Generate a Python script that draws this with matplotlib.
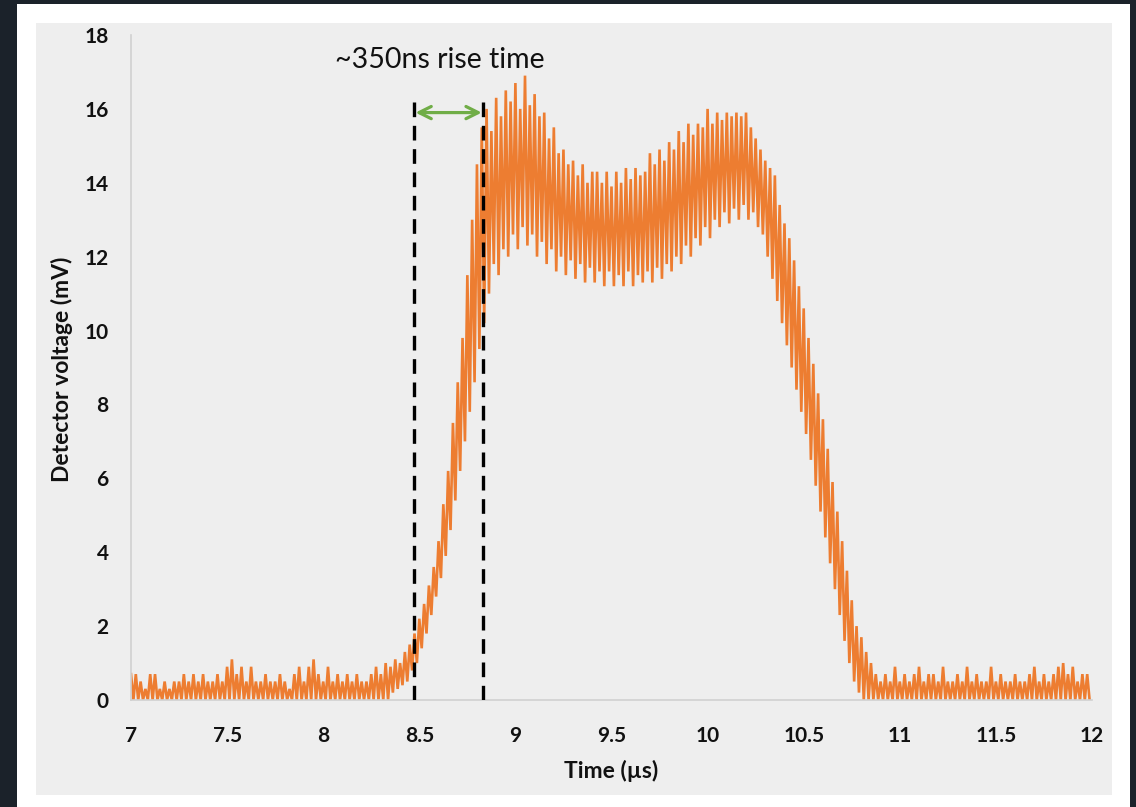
import numpy as np
import matplotlib
matplotlib.use("Agg")
import matplotlib.pyplot as plt
from matplotlib.patches import Rectangle

# ---- data ----
t_start = 7.0
period = 0.025  # us, oscillation period of the trace

# upper (peak) values of each oscillation, mV
hi_vals = [
    # baseline 7.0 - 8.325
    0.7, 0.7, 0.5, 0.3, 0.7, 0.7, 0.3, 0.5, 0.3, 0.5,
    0.5, 0.7, 0.5, 0.7, 0.5, 0.7, 0.5, 0.5, 0.7, 0.5,
    0.9, 1.1, 0.7, 0.9, 0.5, 0.9, 0.5, 0.5, 0.7, 0.5,
    0.5, 0.7, 0.5, 0.3, 0.7, 0.9, 0.5, 0.9, 1.1, 0.7,
    0.5, 0.9, 0.5, 0.7, 0.5, 0.7, 0.5, 0.7, 0.5, 0.5,
    0.7, 0.9, 0.7, 1.0,
    # rise 8.35 - 8.875
    0.9, 1.1, 1.0, 1.3, 1.5, 1.8, 2.2, 2.6, 3.1, 3.6,
    4.3, 5.3, 6.2, 7.5, 8.6, 9.8, 11.5, 13.0, 14.5, 15.5,
    16.0, 15.4,
    # first hump and dip 8.9 - 9.975
    16.3, 15.8, 16.5, 16.2, 16.7, 16.0, 16.9, 16.1, 16.4, 15.8,
    15.9, 15.2, 15.5, 14.8, 14.9, 14.5, 14.6, 14.2, 14.5, 14.0,
    14.3, 14.3, 14.0, 14.3, 13.9, 14.3, 14.0, 14.4, 14.1, 14.4,
    14.2, 14.3, 14.8, 14.5, 14.9, 14.6, 15.1, 14.9, 15.4, 15.1,
    15.6, 15.3, 15.6, 15.5,
    # second hump 10.0 - 10.275
    16.0, 15.6, 15.9, 15.7, 15.9, 15.8, 15.9, 15.8, 15.9, 15.5,
    15.2, 14.9,
    # fall 10.3 - 10.85
    14.6, 14.4, 14.2, 13.4, 12.9, 12.5, 11.9, 11.2, 10.6, 9.8,
    9.1, 8.3, 7.6, 6.8, 5.9, 5.1, 4.3, 3.5, 2.7, 2.0,
    1.7, 1.3, 1.0,
    # baseline 10.875 - 11.975
    0.7, 0.5, 0.7, 0.5, 0.9, 0.5, 0.7, 0.5, 0.7, 0.9,
    0.5, 0.7, 0.7, 0.5, 0.9, 0.5, 0.5, 0.7, 0.5, 0.9,
    0.5, 0.7, 0.5, 0.5, 0.9, 0.5, 0.7, 0.5, 0.5, 0.7,
    0.5, 0.5, 0.7, 0.9, 0.5, 0.7, 0.5, 0.7, 0.9, 1.0,
    0.7, 0.9, 0.5, 0.7, 0.7,
]

# lower (trough) values of each oscillation, mV
lo_vals = [0.0] * 54 + [
    0.2, 0.3, 0.4, 0.5, 0.8, 1.0, 1.4, 1.8, 2.3, 2.8,
    3.3, 3.9, 4.6, 5.4, 6.2, 7.0, 7.8, 8.6, 9.5, 10.2,
    11.0, 11.8,
    11.5, 12.2, 12.0, 12.6, 12.2, 12.8, 12.3, 12.6, 12.0, 12.4,
    11.8, 12.2, 11.6, 12.0, 11.5, 11.9, 11.4, 11.8, 11.3, 11.7,
    11.3, 11.6, 11.2, 11.6, 11.2, 11.5, 11.2, 11.6, 11.2, 11.5,
    11.3, 11.6, 11.3, 11.7, 11.4, 11.8, 11.6, 12.0, 11.8, 12.3,
    12.0, 12.5, 12.3, 12.8,
    12.5, 13.0, 12.8, 13.2, 12.9, 13.3, 13.0, 13.4, 13.0, 13.2,
    12.8, 12.6,
    12.0, 11.4, 10.8, 10.2, 9.6, 9.0, 8.4, 7.8, 7.2, 6.5,
    5.8, 5.1, 4.4, 3.7, 3.0, 2.3, 1.6, 1.0, 0.5, 0.2,
    0.0, 0.0, 0.0,
] + [0.0] * 45

x_ticks = [7, 7.5, 8, 8.5, 9, 9.5, 10, 10.5, 11, 11.5, 12]
x_tick_labels = ["7", "7.5", "8", "8.5", "9", "9.5", "10", "10.5", "11", "11.5", "12"]
y_ticks = [0, 2, 4, 6, 8, 10, 12, 14, 16, 18]

rise_start = 8.475
rise_end = 8.83
marker_top = 16.3
arrow_y = 15.9
annotation = "~350ns rise time"

# ---- build trace (alternating peak / trough samples) ----
hi = np.array(hi_vals)
lo = np.array(lo_vals)
n = len(hi)
t_hi = t_start + period * np.arange(n)
t_lo = t_hi + period / 2
t = np.empty(2 * n)
v = np.empty(2 * n)
t[0::2] = t_hi
t[1::2] = t_lo
v[0::2] = hi
v[1::2] = lo

# ---- figure ----
W, H = 1136, 807
fig = plt.figure(figsize=(W / 100, H / 100), dpi=100)
fig.patch.set_facecolor("#1b222a")

def px_rect(x0, y0, x1, y1, color):
    fig.patches.append(Rectangle((x0 / W, 1 - y1 / H), (x1 - x0) / W, (y1 - y0) / H,
                                 transform=fig.transFigure, facecolor=color,
                                 edgecolor="none", zorder=-10))

px_rect(17, 4, 1130, 812, "#ffffff")
px_rect(36, 23, 1112, 795, "#eeeeee")

ax = fig.add_axes([131 / W, (H - 700) / H, (1092 - 131) / W, (700 - 35) / H])
ax.set_facecolor("none")
ax.plot(t, v, color="#ed7d31", lw=1.9, solid_joinstyle="miter", zorder=2)

ax.set_xlim(7, 12)
ax.set_ylim(0, 18)
ax.set_xticks(x_ticks)
ax.set_xticklabels(x_tick_labels)
ax.set_yticks(y_ticks)
for s in ["top", "right"]:
    ax.spines[s].set_visible(False)
for s in ["left", "bottom"]:
    ax.spines[s].set_color("#d0d0d0")
    ax.spines[s].set_linewidth(1.2)
ax.tick_params(axis="both", length=0)
ax.tick_params(axis="y", pad=16)
ax.tick_params(axis="x", pad=19)
for lab in ax.get_xticklabels() + ax.get_yticklabels():
    lab.set_fontfamily("Lato")
    lab.set_fontweight("bold")
    lab.set_fontsize(15)
    lab.set_color("#111111")

# rise-time markers
for xv in (rise_start, rise_end):
    ax.plot([xv, xv], [0, marker_top], color="black", lw=2.4,
            dashes=(4.4, 2.6), zorder=4, solid_capstyle="butt")
ax.annotate("", xy=(rise_start + 0.005, arrow_y), xytext=(rise_end - 0.005, arrow_y),
            arrowprops=dict(arrowstyle="<->", color="#70ad47", lw=2.3,
                            mutation_scale=22, shrinkA=0, shrinkB=0), zorder=5)
ax.text(8.608, 17.33, annotation, ha="center", va="center", fontsize=20.5,
        fontfamily="Lato", color="#111111", clip_on=False)

fig.text(611 / W, 1 - 771 / H, "Time (\u00b5s)", ha="center", va="center",
         fontsize=16.5, fontfamily="Lato", fontweight="bold", color="#111111")
fig.text(62 / W, 1 - 369 / H, "Detector voltage (mV)", ha="center", va="center",
         rotation=90, fontsize=16.5, fontfamily="Lato", fontweight="bold", color="#111111")

fig.savefig("out.png", dpi=100, facecolor=fig.get_facecolor())
